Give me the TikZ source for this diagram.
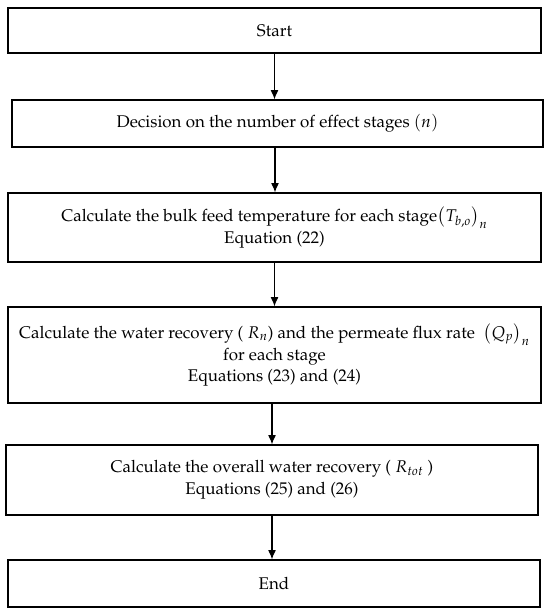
\documentclass[tikz,border=0pt]{standalone}
\usepackage[T1]{fontenc}
\usepackage{mathpazo}
\usetikzlibrary{arrows.meta}

\tikzset{
    stepbox/.style={draw, line width=1pt, rectangle, align=center, inner sep=0pt,
        font=\fontsize{12.7}{16.3}\selectfont},
    flow/.style={-{Latex[length=7pt, width=6pt]}, line width=0.8pt}
}

\begin{document}
\begin{tikzpicture}[x=0.75pt, y=-0.75pt]
            \useasboundingbox (0,0) rectangle (550,615);

            % Boxes
            \node[stepbox, minimum width=533*0.75pt, minimum height=45*0.75pt] (start) at (274.5,30.5) {Start};
            \node[stepbox, minimum width=531*0.75pt, minimum height=47*0.75pt] (decide) at (277.5,123.5)
                {Decision on the number of effect stages $(n)$};
            \node[stepbox, minimum width=533*0.75pt, minimum height=69*0.75pt] (temp) at (274.5,227.5)
                {Calculate the bulk feed temperature for each stage$\big(T_{b,o}\big)_n$\\
                Equation (22)};
            \node[stepbox, minimum width=533*0.75pt, minimum height=96*0.75pt] (recov) at (274.5,355)
                {Calculate the water recovery ( $R_n$) and the permeate flux rate \ $\big(Q_p\big)_n$\\
                for each stage\\
                Equations (23) and (24)};
            \node[stepbox, minimum width=532*0.75pt, minimum height=70*0.75pt] (total) at (272,480)
                {Calculate the overall water recovery ( $R_{tot}$ )\\
                Equations (25) and (26)};
            \node[stepbox, minimum width=532*0.75pt, minimum height=47*0.75pt] (end) at (274,583.5) {End};

            % Arrows
            \draw[flow] (start.south) -- (start.south |- decide.north);
            \draw[flow] ([xshift=-2.5*0.75pt]decide.south) -- ([xshift=-2.5*0.75pt]decide.south |- temp.north);
            \draw[flow] (temp.south) -- (temp.south |- recov.north);
            \draw[flow] ([xshift=-2.5*0.75pt]recov.south) -- ([xshift=-2.5*0.75pt]recov.south |- total.north);
            \draw[flow] (total.south) -- (total.south |- end.north);

        \end{tikzpicture}
\end{document}
